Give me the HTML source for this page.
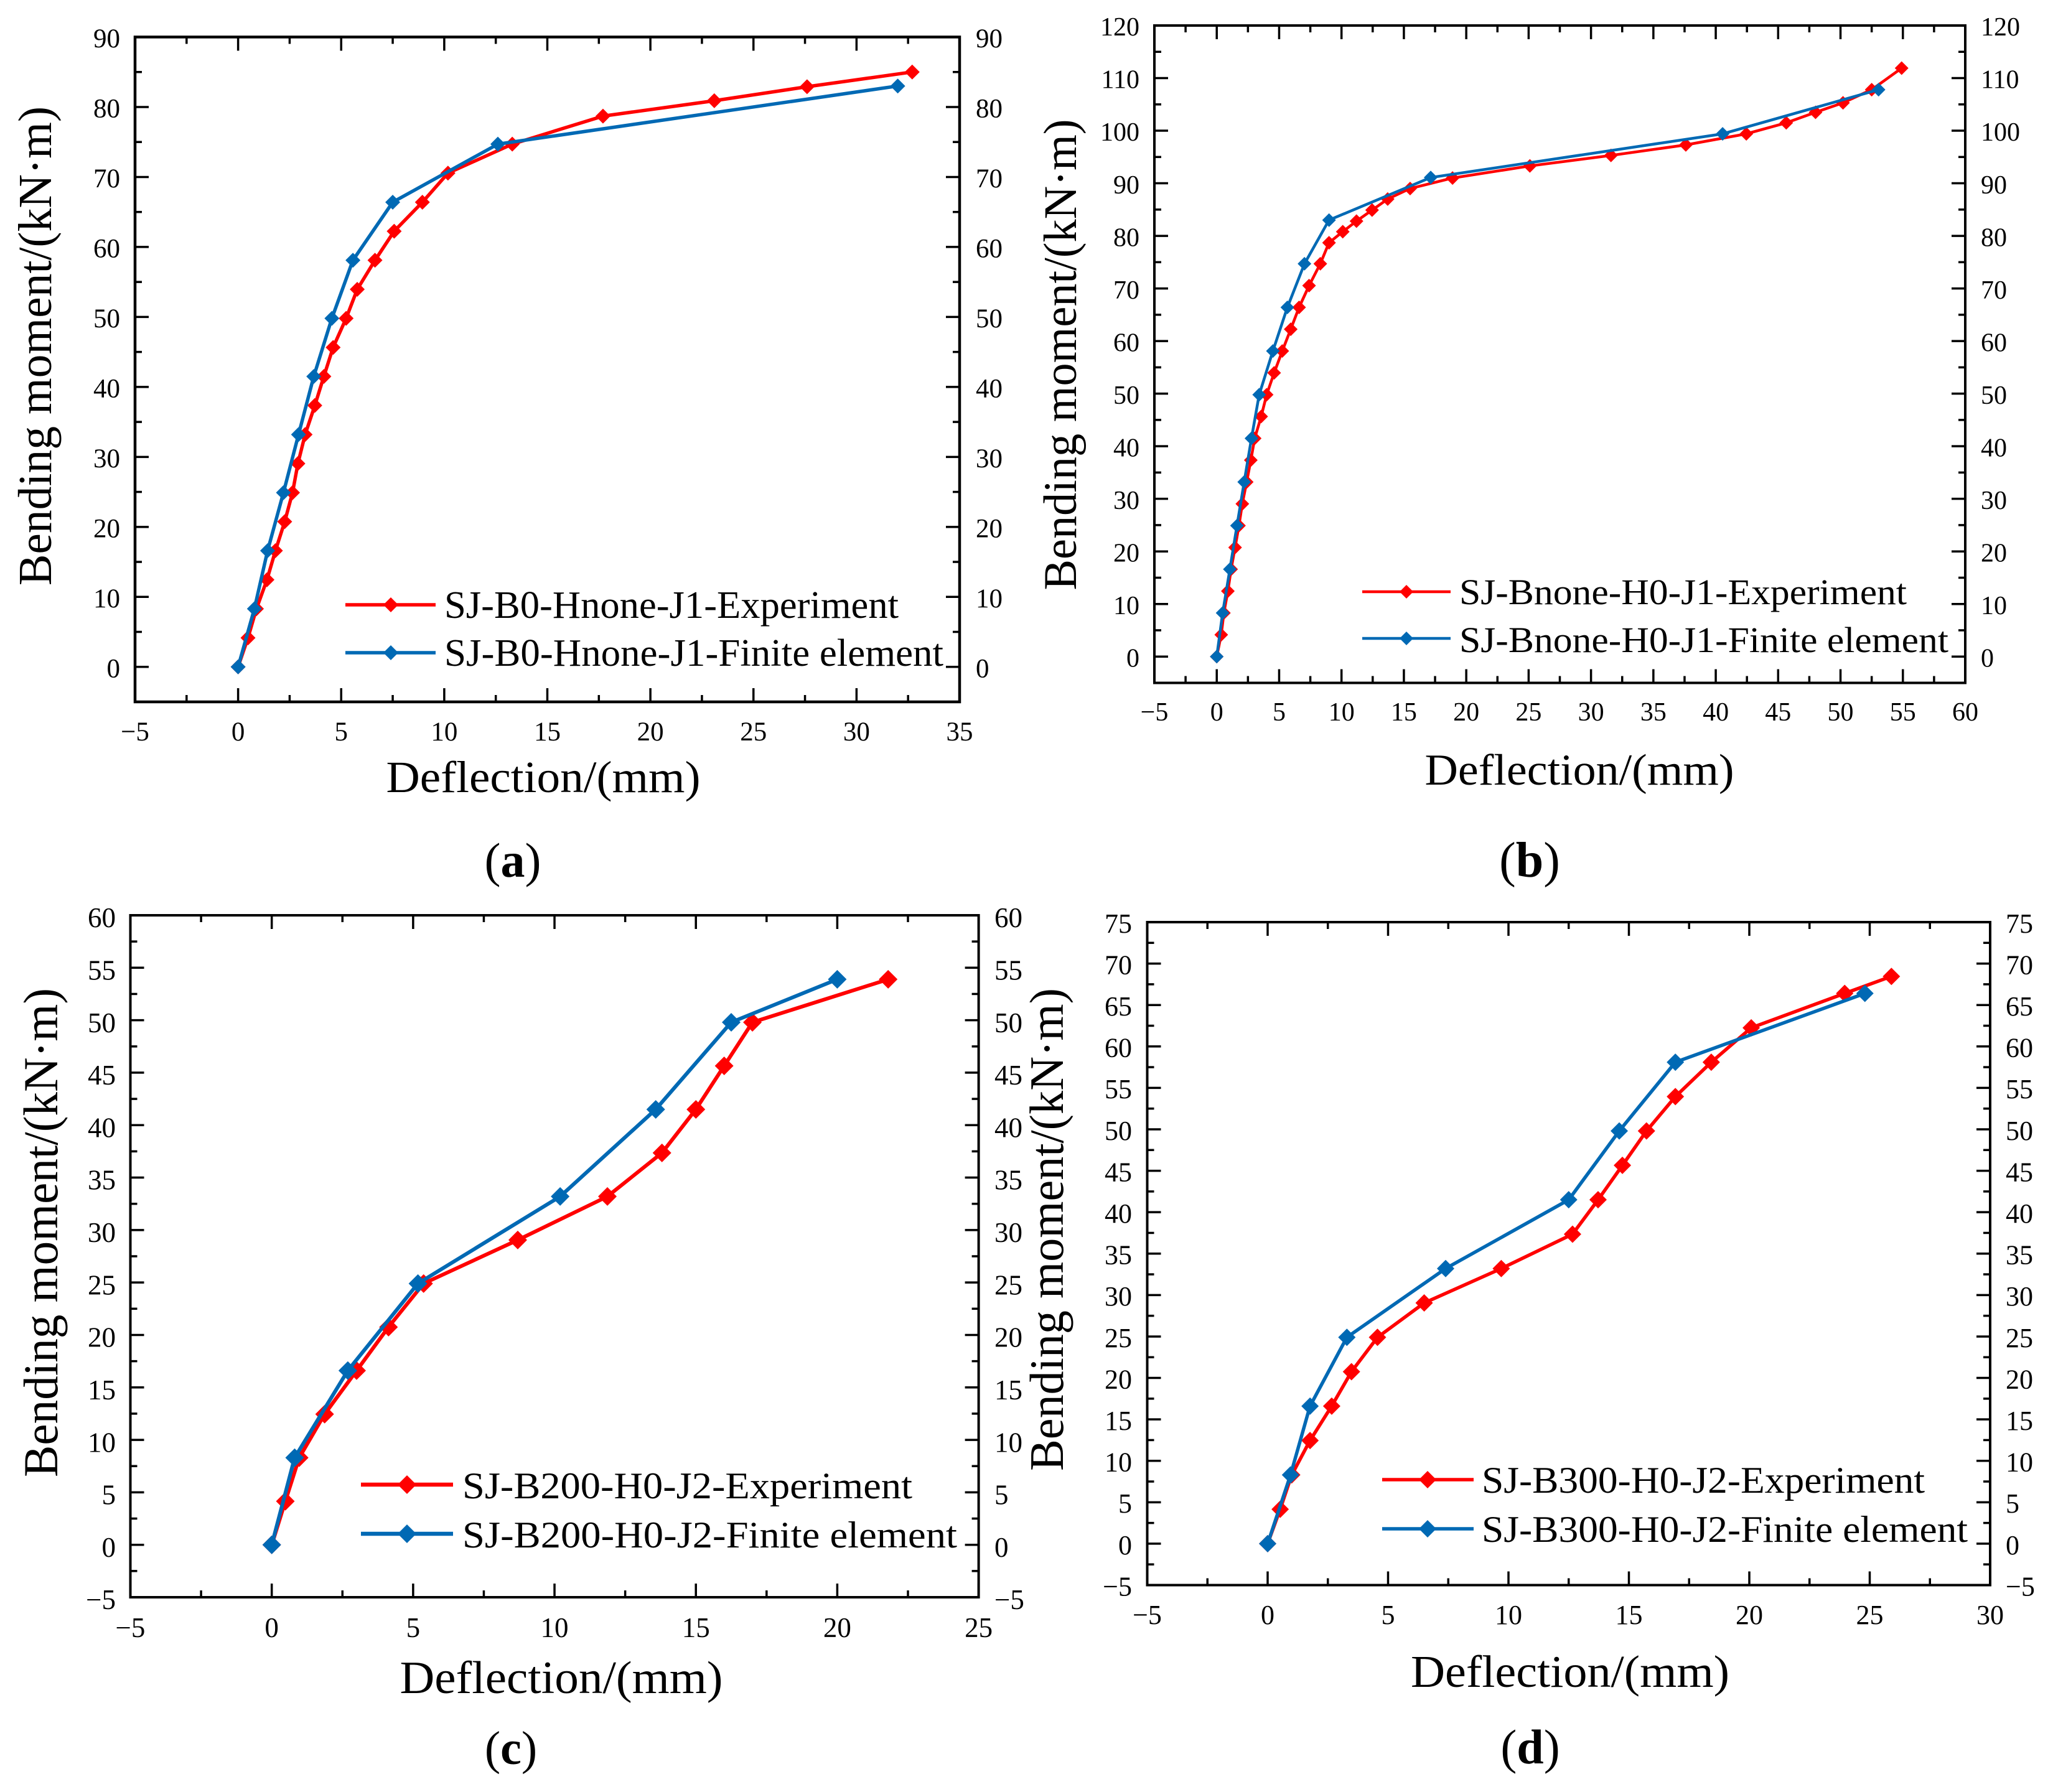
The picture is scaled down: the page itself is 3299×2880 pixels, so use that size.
<!DOCTYPE html>
<html lang="en">
<head>
<meta charset="utf-8">
<title>Bending moment versus deflection</title>
<style>
html,body{margin:0;padding:0;background:#fff;}
svg{display:block;}
text{font-family:"Liberation Serif","Noto Serif CJK SC",serif;fill:#000;}
</style>
</head>
<body>
<svg id="figure" xmlns="http://www.w3.org/2000/svg" width="3299" height="2880" viewBox="0 0 3299 2880">
  <rect x="0" y="0" width="3299" height="2880" fill="#fff"/>

  <g id="panel-a">
    <g id="panel-a-plot"></g>
    <text x="82" y="0" transform="translate(0 556) rotate(-90 82 0)" text-anchor="middle" font-size="76" textLength="770" lengthAdjust="spacingAndGlyphs">Bending moment/(kN·m)</text>
    <text x="873" y="1273" text-anchor="middle" font-size="72" textLength="505" lengthAdjust="spacingAndGlyphs">Deflection/(mm)</text>
    <text x="824" y="1409" text-anchor="middle" font-size="78">(<tspan font-weight="bold">a</tspan>)</text>
    <g>
      <g>
        <line x1="555" y1="972" x2="700" y2="972" stroke="#ff0000" stroke-width="5.5"/>
        <path d="M628 960L640 972L628 984L616 972Z" fill="#ff0000"/>
        <text x="714" y="993" font-size="62" textLength="730" lengthAdjust="spacingAndGlyphs">SJ-B0-Hnone-J1-Experiment</text>
      </g>
      <g>
        <line x1="555" y1="1049" x2="700" y2="1049" stroke="#0069b4" stroke-width="5.5"/>
        <path d="M628 1037L640 1049L628 1061L616 1049Z" fill="#0069b4"/>
        <text x="714" y="1070" font-size="62" textLength="802" lengthAdjust="spacingAndGlyphs">SJ-B0-Hnone-J1-Finite element</text>
      </g>
    </g>
  </g>

  <g id="panel-b">
    <g id="panel-b-plot"></g>
    <text x="1729" y="0" transform="translate(0 570) rotate(-90 1729 0)" text-anchor="middle" font-size="75" textLength="757" lengthAdjust="spacingAndGlyphs">Bending moment/(kN·m)</text>
    <text x="2538" y="1261" text-anchor="middle" font-size="71" textLength="497" lengthAdjust="spacingAndGlyphs">Deflection/(mm)</text>
    <text x="2458" y="1409" text-anchor="middle" font-size="80">(<tspan font-weight="bold">b</tspan>)</text>
    <g>
      <g>
        <line x1="2189" y1="951" x2="2331" y2="951" stroke="#ff0000" stroke-width="4.5"/>
        <path d="M2260 940L2271 951L2260 962L2249 951Z" fill="#ff0000"/>
        <text x="2345" y="971" font-size="58" textLength="719" lengthAdjust="spacingAndGlyphs">SJ-Bnone-H0-J1-Experiment</text>
      </g>
      <g>
        <line x1="2189" y1="1026" x2="2331" y2="1026" stroke="#0069b4" stroke-width="4.5"/>
        <path d="M2260 1015L2271 1026L2260 1037L2249 1026Z" fill="#0069b4"/>
        <text x="2345" y="1048" font-size="58" textLength="786" lengthAdjust="spacingAndGlyphs">SJ-Bnone-H0-J1-Finite element</text>
      </g>
    </g>
  </g>

  <g id="panel-c">
    <g id="panel-c-plot"></g>
    <text x="92" y="0" transform="translate(0 1981) rotate(-90 92 0)" text-anchor="middle" font-size="78" textLength="786" lengthAdjust="spacingAndGlyphs">Bending moment/(kN·m)</text>
    <text x="902" y="2721" text-anchor="middle" font-size="74" textLength="519" lengthAdjust="spacingAndGlyphs">Deflection/(mm)</text>
    <text x="821" y="2835" text-anchor="middle" font-size="76">(<tspan font-weight="bold">c</tspan>)</text>
    <g>
      <g>
        <line x1="580" y1="2386" x2="728" y2="2386" stroke="#ff0000" stroke-width="6.5"/>
        <path d="M654 2371L669 2386L654 2401L639 2386Z" fill="#ff0000"/>
        <text x="743" y="2408" font-size="60" textLength="723" lengthAdjust="spacingAndGlyphs">SJ-B200-H0-J2-Experiment</text>
      </g>
      <g>
        <line x1="580" y1="2465" x2="728" y2="2465" stroke="#0069b4" stroke-width="6.5"/>
        <path d="M654 2450L669 2465L654 2480L639 2465Z" fill="#0069b4"/>
        <text x="743" y="2487" font-size="60" textLength="795" lengthAdjust="spacingAndGlyphs">SJ-B200-H0-J2-Finite element</text>
      </g>
    </g>
  </g>

  <g id="panel-d">
    <g id="panel-d-plot"></g>
    <text x="1708" y="0" transform="translate(0 1976) rotate(-90 1708 0)" text-anchor="middle" font-size="77" textLength="776" lengthAdjust="spacingAndGlyphs">Bending moment/(kN·m)</text>
    <text x="2523" y="2711" text-anchor="middle" font-size="73" textLength="512" lengthAdjust="spacingAndGlyphs">Deflection/(mm)</text>
    <text x="2459" y="2834" text-anchor="middle" font-size="78">(<tspan font-weight="bold">d</tspan>)</text>
    <g>
      <g>
        <line x1="2221" y1="2378" x2="2368" y2="2378" stroke="#ff0000" stroke-width="5.5"/>
        <path d="M2294 2364L2308 2378L2294 2392L2280 2378Z" fill="#ff0000"/>
        <text x="2381" y="2399" font-size="60" textLength="712" lengthAdjust="spacingAndGlyphs">SJ-B300-H0-J2-Experiment</text>
      </g>
      <g>
        <line x1="2221" y1="2457" x2="2368" y2="2457" stroke="#0069b4" stroke-width="5.5"/>
        <path d="M2294 2443L2308 2457L2294 2471L2280 2457Z" fill="#0069b4"/>
        <text x="2381" y="2478" font-size="60" textLength="781" lengthAdjust="spacingAndGlyphs">SJ-B300-H0-J2-Finite element</text>
      </g>
    </g>
  </g>
</svg>

<script>
// Panel (a) data
const aXTicks = [-5, 0, 5, 10, 15, 20, 25, 30, 35];
const aYTicks = [0, 10, 20, 30, 40, 50, 60, 70, 80, 90];
const aExperimentDeflection = [0, 0.48, 0.89, 1.4, 1.81, 2.26, 2.64, 2.9, 3.25, 3.72, 4.16, 4.61, 5.24, 5.78, 6.64, 7.57, 8.94, 10.18, 13.3, 17.7, 23.1, 27.6, 32.7];
const aExperimentMoment = [0, 4.15, 8.3, 12.45, 16.6, 20.75, 24.9, 29.05, 33.2, 37.35, 41.5, 45.65, 49.8, 53.95, 58.1, 62.25, 66.4, 70.55, 74.7, 78.7, 80.9, 82.9, 85];
const aFiniteDeflection = [0, 0.79, 1.43, 2.2, 2.93, 3.67, 4.55, 5.57, 7.5, 12.6, 32];
const aFiniteMoment = [0, 8.3, 16.6, 24.9, 33.2, 41.5, 49.8, 58.1, 66.4, 74.7, 83];

// Panel (b) data
const bXTicks = [-5, 0, 5, 10, 15, 20, 25, 30, 35, 40, 45, 50, 55, 60];
const bYTicks = [0, 10, 20, 30, 40, 50, 60, 70, 80, 90, 100, 110, 120];
const bExperimentDeflection = [0, 0.36, 0.57, 0.89, 1.15, 1.47, 1.78, 2.05, 2.4, 2.73, 3.04, 3.56, 4.0, 4.6, 5.25, 5.93, 6.6, 7.4, 8.3, 9.0, 10.1, 11.2, 12.45, 13.7, 15.5, 18.9, 25.1, 31.6, 37.6, 42.45, 45.65, 48.0, 50.2, 52.5, 54.9];
const bExperimentMoment = [0, 4.15, 8.3, 12.45, 16.6, 20.75, 24.9, 29.05, 33.2, 37.35, 41.5, 45.65, 49.8, 53.95, 58.1, 62.25, 66.4, 70.55, 74.7, 78.7, 80.8, 82.8, 84.9, 87, 89, 91, 93.3, 95.3, 97.3, 99.4, 101.5, 103.5, 105.3, 107.8, 111.9];
const bFiniteDeflection = [0, 0.47, 1.05, 1.62, 2.2, 2.78, 3.4, 4.5, 5.66, 7.03, 9.0, 17.15, 40.55, 53.05];
const bFiniteMoment = [0, 8.3, 16.6, 24.9, 33.2, 41.5, 49.8, 58.1, 66.4, 74.7, 83, 91.1, 99.4, 107.8];

// Panel (c) data
const cXTicks = [-5, 0, 5, 10, 15, 20, 25];
const cYTicks = [-5, 0, 5, 10, 15, 20, 25, 30, 35, 40, 45, 50, 55, 60];
const cExperimentDeflection = [0, 0.48, 0.97, 1.87, 3.0, 4.13, 5.37, 8.7, 11.87, 13.8, 15, 16.0, 17, 21.8];
const cExperimentMoment = [0, 4.15, 8.3, 12.45, 16.6, 20.75, 24.9, 29.05, 33.2, 37.35, 41.5, 45.65, 49.8, 53.9];
const cFiniteDeflection = [0, 0.81, 2.69, 5.17, 10.2, 13.58, 16.25, 20];
const cFiniteMoment = [0, 8.3, 16.6, 24.9, 33.2, 41.5, 49.8, 53.9];

// Panel (d) data
const dXTicks = [-5, 0, 5, 10, 15, 20, 25, 30];
const dYTicks = [-5, 0, 5, 10, 15, 20, 25, 30, 35, 40, 45, 50, 55, 60, 65, 70, 75];
const dExperimentDeflection = [0, 0.52, 1.0, 1.76, 2.66, 3.48, 4.56, 6.5, 9.7, 12.66, 13.72, 14.73, 15.73, 16.93, 18.42, 20.08, 23.96, 25.9];
const dExperimentMoment = [0, 4.15, 8.3, 12.45, 16.6, 20.75, 24.9, 29.05, 33.2, 37.35, 41.5, 45.65, 49.8, 53.95, 58.1, 62.25, 66.4, 68.45];
const dFiniteDeflection = [0, 0.95, 1.76, 3.29, 7.39, 12.5, 14.6, 16.93, 24.8];
const dFiniteMoment = [0, 8.3, 16.6, 24.9, 33.2, 41.5, 49.8, 58.1, 66.4];

const SVG_NS = 'http://www.w3.org/2000/svg';
const RED = '#ff0000';
const BLUE = '#0069b4';

function make(tag, parent, attrs) {
  const el = document.createElementNS(SVG_NS, tag);
  for (const k in attrs) el.setAttribute(k, attrs[k]);
  parent.appendChild(el);
  return el;
}

function fmt(v) {
  return v < 0 ? '\u2212' + Math.abs(v) : String(v);
}

function drawSeries(root, name, xs, ys, sx, sy, color, lineWidth, mx, my) {
  const g = make('g', root, {});
  
  
  const pts = xs.map(function (x, i) { return sx(x).toFixed(1) + ',' + sy(ys[i]).toFixed(1); }).join(' ');
  const line = make('polyline', g, { points: pts, fill: 'none', stroke: color, 'stroke-width': lineWidth, 'stroke-linejoin': 'round' });
  
  
  xs.forEach(function (x, i) {
    const px = sx(x), py = sy(ys[i]);
    const d = 'M' + px + ' ' + (py - my) + 'L' + (px + mx) + ' ' + py + 'L' + px + ' ' + (py + my) + 'L' + (px - mx) + ' ' + py + 'Z';
    const marker = make('path', g, { d: d, fill: color });
    
    
  });
}

function drawPanel(o) {
  const root = document.getElementById(o.id);
  const xMin = o.xTicks[0], xMax = o.xTicks[o.xTicks.length - 1];
  const yMax = o.yTicks[o.yTicks.length - 1];
  const sx = function (v) { return o.left + (v - xMin) / (xMax - xMin) * (o.right - o.left); };
  const sy = function (v) { return o.bottom - (v - o.yFloor) / (yMax - o.yFloor) * (o.bottom - o.top); };

  const ticks = make('g', root, {});
  
  
  function tick(x1, y1, x2, y2) {
    make('line', ticks, { x1: x1, y1: y1, x2: x2, y2: y2, stroke: '#000', 'stroke-width': o.tickWidth });
  }
  const xStep = o.xTicks[1] - o.xTicks[0];
  o.xTicks.forEach(function (v) {
    const p = sx(v);
    tick(p, o.bottom, p, o.bottom - 22);
    tick(p, o.top, p, o.top + 22);
    if (v < xMax) {
      const m = sx(v + xStep / 2);
      tick(m, o.bottom, m, o.bottom - 11);
      tick(m, o.top, m, o.top + 11);
    }
  });
  const yStep = o.yTicks[1] - o.yTicks[0];
  o.yTicks.forEach(function (v) {
    const p = sy(v);
    tick(o.left, p, o.left + 22, p);
    tick(o.right, p, o.right - 22, p);
    if (v < yMax) {
      const m = sy(v + yStep / 2);
      tick(o.left, m, o.left + 11, m);
      tick(o.right, m, o.right - 11, m);
    }
  });

  const frame = make('rect', root, { x: o.left, y: o.top, width: o.right - o.left, height: o.bottom - o.top, fill: 'none', stroke: '#000', 'stroke-width': o.frameWidth });
  
  

  o.xTicks.forEach(function (v) {
    const t = make('text', root, { x: sx(v), y: o.xLabelY, 'text-anchor': 'middle', 'font-size': o.font });
    
    
    t.textContent = fmt(v);
  });
  o.yTicks.forEach(function (v) {
    const base = sy(v) + o.font * 0.338 + o.labelShift;
    const l = make('text', root, { x: o.yLabelLeft, y: base, 'text-anchor': 'end', 'font-size': o.font });
    
    
    l.textContent = fmt(v);
    const r = make('text', root, { x: o.yLabelRight, y: base, 'text-anchor': 'start', 'font-size': o.font });
    
    
    r.textContent = fmt(v);
  });

  drawSeries(root, 'experiment-series', o.expX, o.expY, sx, sy, RED, o.lineWidth, o.mx, o.my);
  drawSeries(root, 'finite-element-series', o.femX, o.femY, sx, sy, BLUE, o.lineWidth, o.mx, o.my);
}

drawPanel({ id: 'panel-a-plot', left: 217, right: 1542, top: 59.5, bottom: 1128, yFloor: -5,
  xTicks: aXTicks, yTicks: aYTicks, expX: aExperimentDeflection, expY: aExperimentMoment, femX: aFiniteDeflection, femY: aFiniteMoment,
  font: 43, xLabelY: 1190, yLabelLeft: 193, yLabelRight: 1568, labelShift: 2, lineWidth: 5.5, mx: 12, my: 12, tickWidth: 3.5, frameWidth: 4.5 });

drawPanel({ id: 'panel-b-plot', left: 1855, right: 3158, top: 41, bottom: 1097.5, yFloor: -5,
  xTicks: bXTicks, yTicks: bYTicks, expX: bExperimentDeflection, expY: bExperimentMoment, femX: bFiniteDeflection, femY: bFiniteMoment,
  font: 42, xLabelY: 1158, yLabelLeft: 1831, yLabelRight: 3183, labelShift: 2, lineWidth: 4.5, mx: 11, my: 11, tickWidth: 3.5, frameWidth: 4 });

drawPanel({ id: 'panel-c-plot', left: 209.5, right: 1572.6, top: 1471, bottom: 2567, yFloor: -5,
  xTicks: cXTicks, yTicks: cYTicks, expX: cExperimentDeflection, expY: cExperimentMoment, femX: cFiniteDeflection, femY: cFiniteMoment,
  font: 45, xLabelY: 2631, yLabelLeft: 186, yLabelRight: 1598, labelShift: 4, lineWidth: 6, mx: 15, my: 15, tickWidth: 3.5, frameWidth: 4 });

drawPanel({ id: 'panel-d-plot', left: 1843.5, right: 3198, top: 1482, bottom: 2547.5, yFloor: -5,
  xTicks: dXTicks, yTicks: dYTicks, expX: dExperimentDeflection, expY: dExperimentMoment, femX: dFiniteDeflection, femY: dFiniteMoment,
  font: 44, xLabelY: 2610, yLabelLeft: 1819, yLabelRight: 3223, labelShift: 2, lineWidth: 5.5, mx: 14, my: 14, tickWidth: 3.5, frameWidth: 4 });
</script>
</body>
</html>
